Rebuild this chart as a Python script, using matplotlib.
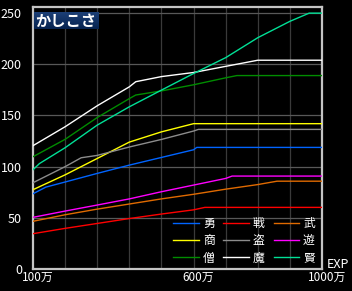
import matplotlib.pyplot as plt
import matplotlib.transforms as mtransforms
import numpy as np
from matplotlib.colors import LinearSegmentedColormap

plt.rcParams['font.family'] = ['Noto Sans CJK JP', 'DejaVu Sans']

# EXP (万) / かしこさ for each class
yu_x = [100, 140, 200, 300, 400, 500, 600, 610, 1000]
yu_y = [73.5, 80, 85, 93.4, 101.5, 109, 116.5, 118.8, 118.8]
sen_x = [100, 200, 300, 400, 500, 600, 635, 1000]
sen_y = [34.5, 39.7, 44.5, 49.3, 53.7, 57.8, 60.2, 60.2]
bu_x = [100, 200, 300, 400, 500, 600, 700, 800, 860, 1000]
bu_y = [46.6, 53, 58.5, 63.5, 68.5, 73, 78, 82.5, 85.8, 85.8]
sho_x = [100, 200, 300, 400, 500, 600, 1000]
sho_y = [77.5, 92, 108, 124, 134, 142, 142]
to_x = [100, 200, 250, 300, 400, 500, 600, 615, 1000]
to_y = [84.3, 100, 108.7, 111, 119.2, 126.6, 134.8, 136.4, 136.4]
asobi_x = [100, 200, 300, 400, 500, 600, 700, 720, 1000]
asobi_y = [50.5, 56.6, 62.5, 68.5, 75.5, 82, 88.5, 90.8, 90.8]
so_x = [100, 200, 300, 400, 420, 500, 600, 700, 735, 1000]
so_y = [109.7, 126.7, 148, 166.5, 170, 174, 180, 186.8, 189, 189]
ma_x = [100, 200, 300, 400, 420, 500, 600, 700, 800, 1000]
ma_y = [120.5, 139, 159.5, 178, 183, 188, 192, 198, 204, 204]
ken_x = [100, 120, 200, 300, 400, 500, 600, 700, 800, 900, 960, 1000]
ken_y = [97, 103, 118.5, 140.6, 158.5, 174.8, 191, 206.5, 226, 242, 250, 250]

names = ['勇', '戦', '武', '商', '盗', '遊', '僧', '魔', '賢']
colors = ['#0064ff', '#ff0000', '#e06a00', '#ffff00', '#8c8c8c',
          '#ff00ff', '#008c00', '#ffffff', '#00e096']
xs = [yu_x, sen_x, bu_x, sho_x, to_x, asobi_x, so_x, ma_x, ken_x]
ys = [yu_y, sen_y, bu_y, sho_y, to_y, asobi_y, so_y, ma_y, ken_y]

W, H = 352, 291
fig = plt.figure(figsize=(W / 100, H / 100), dpi=100, facecolor='black')
ax = fig.add_axes([33 / W, (H - 269) / H, (322 - 33) / W, (269 - 7) / H])
ax.set_facecolor('black')

handles = []
for name, c, x, y in zip(names, colors, xs, ys):
    ln, = ax.plot(x, y, color=c, lw=1.0, label=name, zorder=3)
    handles.append(ln)

ax.set_xlim(100, 1000)
ax.set_ylim(0, 256)

# grid
for v in range(200, 1000, 100):
    ax.axvline(v, color='#3a3a3a', lw=0.9, zorder=1)
for v in range(50, 251, 50):
    ax.axhline(v, color='#585858', lw=0.9, zorder=1)

ax.set_yticks(range(0, 251, 50))
ax.set_xticks([100, 600, 1000])
ax.set_xticklabels(['100万', '600万', '1000万'])
ax.tick_params(length=0, colors='white')
ax.tick_params(axis='y', pad=8, labelsize=9)
ax.tick_params(axis='x', pad=1.5, labelsize=8.5)
off = mtransforms.ScaledTranslation(5 / 100, 0, fig.dpi_scale_trans)
for lab in ax.get_xticklabels():
    lab.set_transform(lab.get_transform() + off)

for s in ax.spines.values():
    s.set_color('#c4c4c4')
    s.set_linewidth(1.6)

fig.text(338 / W, 1 - 265 / H, 'EXP', color='white', fontsize=9,
         ha='center', va='center')

# legend, row-major order: 勇 戦 武 / 商 盗 遊 / 僧 魔 賢
order = [0, 3, 6, 1, 4, 7, 2, 5, 8]
ax.legend([handles[i] for i in order], [names[i] for i in order], ncol=3,
          loc='lower right', bbox_to_anchor=(0.975, 0.017), frameon=False,
          fontsize=8.5, handlelength=2.2, handletextpad=0.3,
          columnspacing=0.75, labelspacing=0.36, borderpad=0,
          borderaxespad=0, labelcolor='white')

# title badge
tax = fig.add_axes([34 / W, 1 - 29 / H, 64 / W, 17 / H])
grad = np.linspace(0, 1, 20).reshape(-1, 1)
cmap = LinearSegmentedColormap.from_list('badge', ['#1c3f76', '#062350'])
tax.imshow(grad, cmap=cmap, aspect='auto', extent=(0, 1, 0, 1))
tax.set_xlim(0, 1)
tax.set_ylim(0, 1)
tax.axis('off')
tax.text(0.5, 0.47, 'かしこさ', color='white', fontsize=11, fontweight='bold',
         ha='center', va='center')

fig.savefig('out.png', dpi=100, facecolor='black')
